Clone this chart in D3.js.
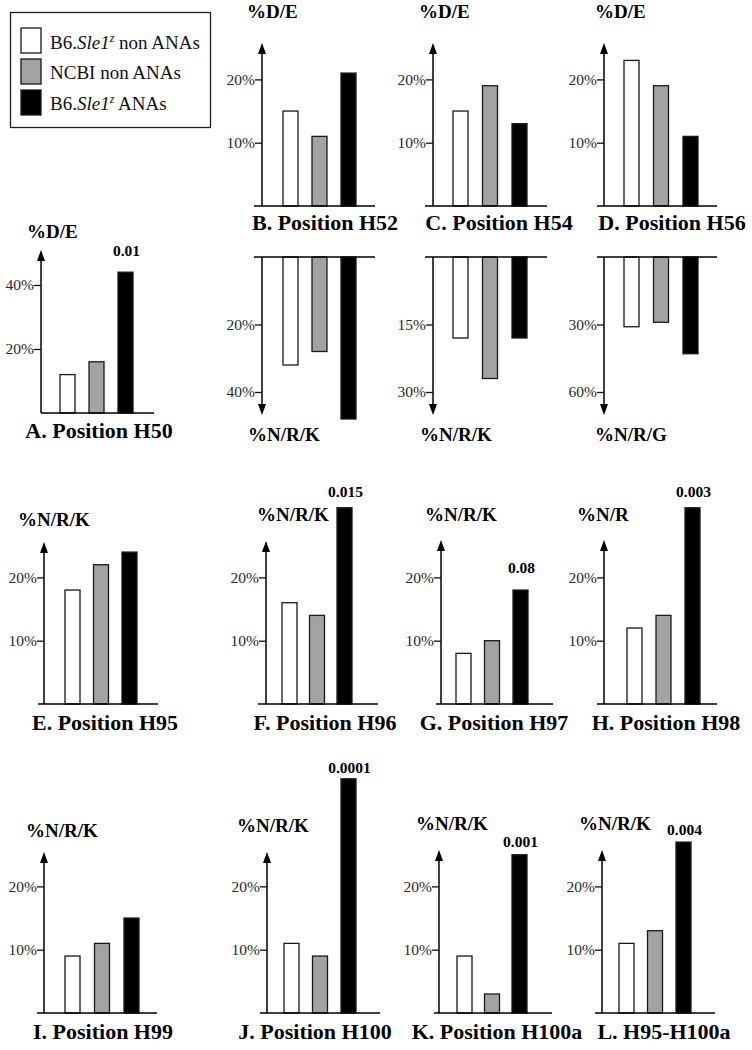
<!DOCTYPE html>
<html>
<head>
<meta charset="utf-8">
<script src="https://cdn.jsdelivr.net/npm/d3@7"></script>
<style>
  html, body { margin: 0; padding: 0; background: #fff; }
  svg { display: block; }
  text { font-family: "Liberation Serif", "Times New Roman", serif; }
</style>
</head>
<body>
<svg id="chart" width="752" height="1050"></svg>
<script>
// ---------------- DATA ----------------
const seriesKeys = ["b6NonAna", "ncbiNonAna", "b6Ana"];
const seriesColors = ["#ffffff", "#a3a3a3", "#000000"];
const panelTitles = ["A. Position H50", "B. Position H52", "C. Position H54", "D. Position H56",
  "E. Position H95", "F. Position H96", "G. Position H97", "H. Position H98",
  "I. Position H99", "J. Position H100", "K. Position H100a", "L. H95-H100a"];
const upperLabels = ["%D/E", "%D/E", "%D/E", "%D/E", "%N/R/K", "%N/R/K", "%N/R/K", "%N/R",
  "%N/R/K", "%N/R/K", "%N/R/K", "%N/R/K"];
const upperValues = [
  [12, 16, 44], [15, 11, 21], [15, 19, 13], [23, 19, 11],
  [18, 22, 24], [16, 14, 31], [8, 10, 18], [12, 14, 31],
  [9, 11, 15], [11, 9, 37], [9, 3, 25], [11, 13, 27]
];
const upperTicks = [[20, 40], [10, 20], [10, 20], [10, 20], [10, 20], [10, 20], [10, 20], [10, 20],
  [10, 20], [10, 20], [10, 20], [10, 20]];
const pValues = ["0.01", "", "", "", "", "0.015", "0.08", "0.003", "", "0.0001", "0.001", "0.004"];
// lower (mirrored) charts for panels B, C, D
const lowerPanelIndex = [1, 2, 3];
const lowerLabels = ["%N/R/K", "%N/R/K", "%N/R/G"];
const lowerValues = [[32, 28, 48], [18, 27, 18], [31, 29, 43]];
const lowerTicks = [[20, 40], [15, 30], [30, 60]];

// ---------------- LAYOUT ----------------
const layout = [
  {axisX: 41, baseY: 413, k: 3.2, tipY: 250, barX0: 60, step: 29, labelX: 27, labelY: 238, titleCX: 99, titleY: 438, lineX0: 41, lineX1: 154, pGap: 16},
  {axisX: 262, baseY: 206, k: 6.33, tipY: 43, barX0: 283, step: 29, labelX: 247, labelY: 18, titleCX: 325, titleY: 230, lineX0: 254, lineX1: 375, pGap: 8},
  {axisX: 433, baseY: 206, k: 6.33, tipY: 43, barX0: 453, step: 29.5, labelX: 419, labelY: 18, titleCX: 499, titleY: 230, lineX0: 425, lineX1: 547, pGap: 8},
  {axisX: 604, baseY: 206, k: 6.33, tipY: 43, barX0: 624, step: 29.5, labelX: 595, labelY: 18, titleCX: 672, titleY: 230, lineX0: 597, lineX1: 717, pGap: 8},
  {axisX: 44, baseY: 704, k: 6.33, tipY: 542, barX0: 65, step: 28.5, labelX: 18, labelY: 526, titleCX: 105, titleY: 730, lineX0: 38, lineX1: 158, pGap: 8},
  {axisX: 266, baseY: 704, k: 6.33, tipY: 541, barX0: 282, step: 27.5, labelX: 257, labelY: 521, titleCX: 325, titleY: 730, lineX0: 258, lineX1: 378, pGap: 11},
  {axisX: 441, baseY: 704, k: 6.33, tipY: 540, barX0: 456, step: 28.5, labelX: 425, labelY: 521, titleCX: 494, titleY: 730, lineX0: 436, lineX1: 553, pGap: 17},
  {axisX: 604, baseY: 704, k: 6.33, tipY: 540, barX0: 627, step: 29, labelX: 577, labelY: 521, titleCX: 666, titleY: 730, lineX0: 597, lineX1: 717, pGap: 11},
  {axisX: 44, baseY: 1013, k: 6.33, tipY: 852, barX0: 65, step: 29.5, labelX: 26, labelY: 837, titleCX: 103, titleY: 1039, lineX0: 37, lineX1: 157, pGap: 8},
  {axisX: 267, baseY: 1013, k: 6.33, tipY: 852, barX0: 284, step: 28.5, labelX: 237, labelY: 832, titleCX: 315, titleY: 1039, lineX0: 260, lineX1: 380, pGap: 6},
  {axisX: 439, baseY: 1013, k: 6.33, tipY: 850, barX0: 457, step: 27.5, labelX: 416, labelY: 830, titleCX: 497, titleY: 1039, lineX0: 434, lineX1: 552, pGap: 8},
  {axisX: 602, baseY: 1013, k: 6.33, tipY: 850, barX0: 619, step: 28.5, labelX: 579, labelY: 830, titleCX: 664, titleY: 1039, lineX0: 595, lineX1: 715, pGap: 7}
];
const lowerLayout = {lineY: 257, endY: 392, tipY: 415, labelY: 441};
const lowerLabelX = [248, 420, 595];
const barW = 15;

const svg = d3.select("#chart");

function arrowUp(g, x, tipY) {
  g.append("path").attr("d", `M${x},${tipY} L${x - 4},${tipY + 11} L${x + 4},${tipY + 11} Z`).attr("fill", "#000");
}
function arrowDown(g, x, tipY) {
  g.append("path").attr("d", `M${x},${tipY} L${x - 4},${tipY - 11} L${x + 4},${tipY - 11} Z`).attr("fill", "#000");
}

function xScaleFor(L) {
  const p = 1 - barW / L.step;
  return d3.scaleBand().domain(seriesKeys)
    .range([L.barX0, L.barX0 + 2 * L.step + barW])
    .paddingInner(p).paddingOuter(0);
}

function drawTicks(g, y, ticks, axisX) {
  const ax = d3.axisLeft(y).tickValues(ticks).tickSize(7).tickPadding(0).tickFormat(d => d + "%");
  const a = g.append("g").attr("transform", `translate(${axisX},0)`).call(ax);
  a.select(".domain").remove();
  a.selectAll(".tick line").attr("stroke", "#111").attr("stroke-width", 1.3);
  a.selectAll(".tick text").attr("font-family", "Liberation Serif, serif").attr("font-size", 15.5).attr("fill", "#2a2a2a");
}

layout.forEach((L, i) => {
  const g = svg.append("g");
  const x = xScaleFor(L);
  const top = 20 * (i === 0 ? 2 : 1);
  const y = d3.scaleLinear().domain([0, top]).range([L.baseY, L.baseY - top * L.k]);
  const vals = upperValues[i];

  g.selectAll("rect.bar").data(vals).join("rect")
    .attr("x", (d, j) => x(seriesKeys[j]))
    .attr("y", d => y(d))
    .attr("width", x.bandwidth())
    .attr("height", d => y(0) - y(d))
    .attr("fill", (d, j) => seriesColors[j])
    .attr("stroke", "#1a1a1a").attr("stroke-width", 1.3);

  g.append("line").attr("x1", L.lineX0).attr("x2", L.lineX1).attr("y1", L.baseY).attr("y2", L.baseY)
    .attr("stroke", "#000").attr("stroke-width", 1.5);
  g.append("line").attr("x1", L.axisX).attr("x2", L.axisX).attr("y1", L.baseY).attr("y2", L.tipY + 5)
    .attr("stroke", "#000").attr("stroke-width", 1.5);
  arrowUp(g, L.axisX, L.tipY);
  drawTicks(g, y, upperTicks[i], L.axisX);

  g.append("text").attr("x", L.labelX).attr("y", L.labelY).attr("font-weight", "bold")
    .attr("font-size", 19).text(upperLabels[i]);
  g.append("text").attr("x", L.titleCX).attr("y", L.titleY).attr("text-anchor", "middle")
    .attr("font-weight", "bold").attr("font-size", 22).text(panelTitles[i]);
  if (pValues[i]) {
    g.append("text").attr("x", x(seriesKeys[2]) + x.bandwidth() / 2 + 1)
      .attr("y", y(vals[2]) - L.pGap).attr("text-anchor", "middle")
      .attr("font-weight", "bold").attr("font-size", 15.5).text(pValues[i]);
  }
});

lowerPanelIndex.forEach((pi, m) => {
  const L = layout[pi];
  const g = svg.append("g");
  const x = xScaleFor(L);
  const maxT = lowerTicks[m][1];
  const y = d3.scaleLinear().domain([0, maxT]).range([lowerLayout.lineY, lowerLayout.endY]);
  const vals = lowerValues[m];
  g.selectAll("rect.bar").data(vals).join("rect")
    .attr("x", (d, j) => x(seriesKeys[j]))
    .attr("y", y(0))
    .attr("width", x.bandwidth())
    .attr("height", d => y(d) - y(0))
    .attr("fill", (d, j) => seriesColors[j])
    .attr("stroke", "#1a1a1a").attr("stroke-width", 1.3);
  g.append("line").attr("x1", L.lineX0).attr("x2", L.lineX1).attr("y1", lowerLayout.lineY).attr("y2", lowerLayout.lineY)
    .attr("stroke", "#000").attr("stroke-width", 1.5);
  g.append("line").attr("x1", L.axisX).attr("x2", L.axisX).attr("y1", lowerLayout.lineY).attr("y2", lowerLayout.tipY - 5)
    .attr("stroke", "#000").attr("stroke-width", 1.5);
  arrowDown(g, L.axisX, lowerLayout.tipY);
  drawTicks(g, y, lowerTicks[m], L.axisX);
  g.append("text").attr("x", lowerLabelX[m]).attr("y", lowerLayout.labelY).attr("font-weight", "bold")
    .attr("font-size", 19).text(lowerLabels[m]);
});

const leg = svg.append("g");
leg.append("rect").attr("x", 10.5).attr("y", 12.5).attr("width", 200).attr("height", 115)
  .attr("fill", "#fff").attr("stroke", "#222").attr("stroke-width", 1.3);
const legY = [28, 59, 90];
const legBase = [49, 79, 110];
seriesKeys.forEach((k, j) => {
  leg.append("rect").attr("x", 21).attr("y", legY[j]).attr("width", 20).attr("height", 25)
    .attr("fill", seriesColors[j]).attr("stroke", "#1a1a1a").attr("stroke-width", 1.3);
  const t = leg.append("text").attr("x", 50).attr("y", legBase[j]).attr("font-size", 19).attr("fill", "#111");
  if (j === 1) {
    t.text("NCBI non ANAs");
  } else {
    t.append("tspan").text("B6.");
    t.append("tspan").attr("font-style", "italic").text("Sle1");
    t.append("tspan").attr("font-style", "italic").attr("font-size", 12).attr("dy", -7).text("z");
    t.append("tspan").attr("dy", 7).text(j === 0 ? " non ANAs" : " ANAs");
  }
});
</script>
</body>
</html>
